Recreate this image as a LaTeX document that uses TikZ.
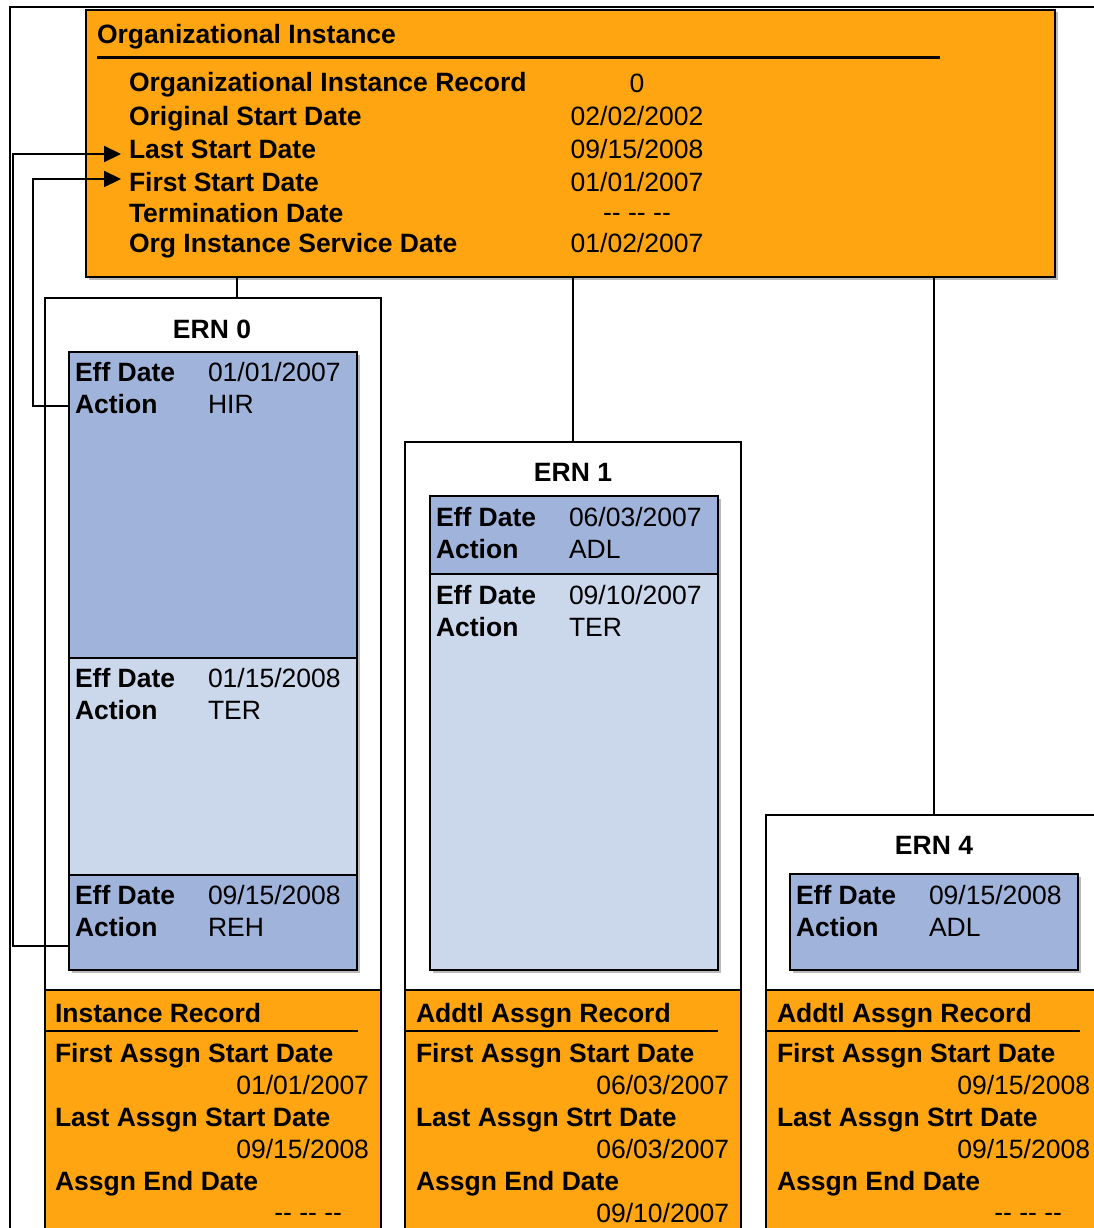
\documentclass[tikz,border=0pt]{standalone}
\usepackage{fontspec}
\setmainfont{Liberation Sans}[Ligatures=TeXOff]
\usetikzlibrary{arrows.meta,shadows}
\definecolor{orgorange}{RGB}{254,165,17}
\definecolor{rowdark}{RGB}{160,180,219}
\definecolor{rowlight}{RGB}{203,216,236}

\begin{document}
\begin{tikzpicture}[x=1pt,y=-1pt,
  every node/.style={font=\fontsize{26.5}{32}\selectfont, inner sep=0pt, outer sep=0pt},
  boxshadow/.style={drop shadow={shadow xshift=2.5pt, shadow yshift=-2.5pt, fill=black!45, opacity=0.6}},
  orgbox/.style={draw, line width=2.5pt, fill=orgorange, anchor=north west, boxshadow},
  recbox/.style={draw, line width=2pt, fill=orgorange, anchor=north west, minimum width=336pt, minimum height=260pt},
  ernbox/.style={draw, line width=2pt, fill=white, anchor=north west, minimum width=336pt},
  darkrow/.style={draw, line width=2.5pt, fill=rowdark, anchor=north west, minimum width=288pt, boxshadow},
  lightrow/.style={darkrow, fill=rowlight},
  lbl/.style={font=\fontsize{26.5}{32}\selectfont\bfseries, anchor=base west},
  val/.style={anchor=base west},
  link/.style={line width=2pt},
  back/.style={line width=2.2pt, shorten >=8pt, -{Triangle[length=17pt,width=16pt]}}]
\useasboundingbox (0,0) rectangle (1093,1228);
\draw[line width=1.5pt] (10,1240) -- (10,7) -- (1110,7);

\node[orgbox, minimum width=969pt, minimum height=267pt] (org) at (86,10) {};
\node[lbl] (orgt) at (97,44) {Organizational Instance};
\draw[line width=3pt] (97,58) -- (940,58);
\node[lbl] (oir) at (129,92) {Organizational Instance Record};
\node[lbl] (osd) at (129,125) {Original Start Date};
\node[lbl] (lsd) at (129,158) {Last Start Date};
\node[lbl] (fsd) at (129,191) {First Start Date};
\node[lbl] (tmd) at (129,222) {Termination Date};
\node[lbl] (isd) at (129,252) {Org Instance Service Date};
\node[anchor=base] (voir) at (637,93) {0};
\node[anchor=base] (vosd) at (637,125) {02/02/2002};
\node[anchor=base] (vlsd) at (637,158) {09/15/2008};
\node[anchor=base] (vfsd) at (637,191) {01/01/2007};
\node[anchor=base] (vtmd) at (637,221) {-- -- --};
\node[anchor=base] (visd) at (637,252) {01/02/2007};

\node[ernbox, minimum height=960pt] (ern0) at (45,298) {};
\node[lbl, anchor=base] (ern0t) at (212,338) {ERN 0};
\node[darkrow, minimum height=306pt] (r01) at (69,352) {};
\node[lightrow, minimum height=217pt] (r02) at (69,658) {};
\node[darkrow, minimum height=95pt] (r03) at (69,875) {};
\node[lbl] (e01) at (75,381) {Eff Date};
\node[lbl] (a01) at (75,413) {Action};
\node[val] (ve01) at (208,381) {01/01/2007};
\node[val] (va01) at (208,413) {HIR};
\node[lbl] (e02) at (75,687) {Eff Date};
\node[lbl] (a02) at (75,719) {Action};
\node[val] (ve02) at (208,687) {01/15/2008};
\node[val] (va02) at (208,719) {TER};
\node[lbl] (e03) at (75,904) {Eff Date};
\node[lbl] (a03) at (75,936) {Action};
\node[val] (ve03) at (208,904) {09/15/2008};
\node[val] (va03) at (208,936) {REH};
\node[recbox] (rec0) at (45,990) {};
\node[lbl] (rec0t) at (55,1022) {Instance Record};
\draw[line width=2.5pt] (45,1031) -- (358,1031);
\node[lbl] (fa0) at (55,1062) {First Assgn Start Date};
\node[val, anchor=base east] (vfa0) at (369,1094) {01/01/2007};
\node[lbl] (la0) at (55,1126) {Last Assgn Start Date};
\node[val, anchor=base east] (vla0) at (369,1158) {09/15/2008};
\node[lbl] (ea0) at (55,1190) {Assgn End Date};
\node[val, anchor=base east] (vea0) at (342,1221) {-- -- --};

\node[ernbox, minimum height=816pt] (ern1) at (405,442) {};
\node[lbl, anchor=base] (ern1t) at (573,481) {ERN 1};
\node[darkrow, minimum height=78pt] (r11) at (430,496) {};
\node[lightrow, minimum height=396pt] (r12) at (430,574) {};
\node[lbl] (e11) at (436,526) {Eff Date};
\node[lbl] (a11) at (436,558) {Action};
\node[val] (ve11) at (569,526) {06/03/2007};
\node[val] (va11) at (569,558) {ADL};
\node[lbl] (e12) at (436,604) {Eff Date};
\node[lbl] (a12) at (436,636) {Action};
\node[val] (ve12) at (569,604) {09/10/2007};
\node[val] (va12) at (569,636) {TER};
\node[recbox] (rec1) at (405,990) {};
\node[lbl] (rec1t) at (416,1022) {Addtl Assgn Record};
\draw[line width=2.5pt] (405,1031) -- (718,1031);
\node[lbl] (fa1) at (416,1062) {First Assgn Start Date};
\node[val, anchor=base east] (vfa1) at (729,1094) {06/03/2007};
\node[lbl] (la1) at (416,1126) {Last Assgn Strt Date};
\node[val, anchor=base east] (vla1) at (729,1158) {06/03/2007};
\node[lbl] (ea1) at (416,1190) {Assgn End Date};
\node[val, anchor=base east] (vea1) at (729,1222) {09/10/2007};

\node[ernbox, minimum height=443pt] (ern4) at (766,815) {};
\node[lbl, anchor=base] (ern4t) at (934,854) {ERN 4};
\node[darkrow, minimum height=96pt] (r41) at (790,874) {};
\node[lbl] (e41) at (796,904) {Eff Date};
\node[lbl] (a41) at (796,936) {Action};
\node[val] (ve41) at (929,904) {09/15/2008};
\node[val] (va41) at (929,936) {ADL};
\node[recbox] (rec4) at (766,990) {};
\node[lbl] (rec4t) at (777,1022) {Addtl Assgn Record};
\draw[line width=2.5pt] (766,1031) -- (1080,1031);
\node[lbl] (fa4) at (777,1062) {First Assgn Start Date};
\node[val, anchor=base east] (vfa4) at (1090,1094) {09/15/2008};
\node[lbl] (la4) at (777,1126) {Last Assgn Strt Date};
\node[val, anchor=base east] (vla4) at (1090,1158) {09/15/2008};
\node[lbl] (ea4) at (777,1190) {Assgn End Date};
\node[val, anchor=base east] (vea4) at (1062,1221) {-- -- --};

\coordinate (c0) at (237,0);
\draw[link] (org.south -| c0) -- (ern0.north -| c0);
\draw[link] (org.south -| ern1.north) -- (ern1.north);
\draw[link] (org.south -| ern4.north) -- (ern4.north);

\coordinate (lastx) at (13,0);
\coordinate (firstx) at (33,0);
\coordinate (hir) at ([yshift=-54pt]r01.north west);
\coordinate (reh) at ([yshift=-71pt]r03.north west);
\draw[back] (reh) -- (reh -| lastx) |- ([yshift=4pt]lsd.base west);
\draw[back] (hir) -- (hir -| firstx) |- ([yshift=12pt]fsd.base west);
\end{tikzpicture}
\end{document}
